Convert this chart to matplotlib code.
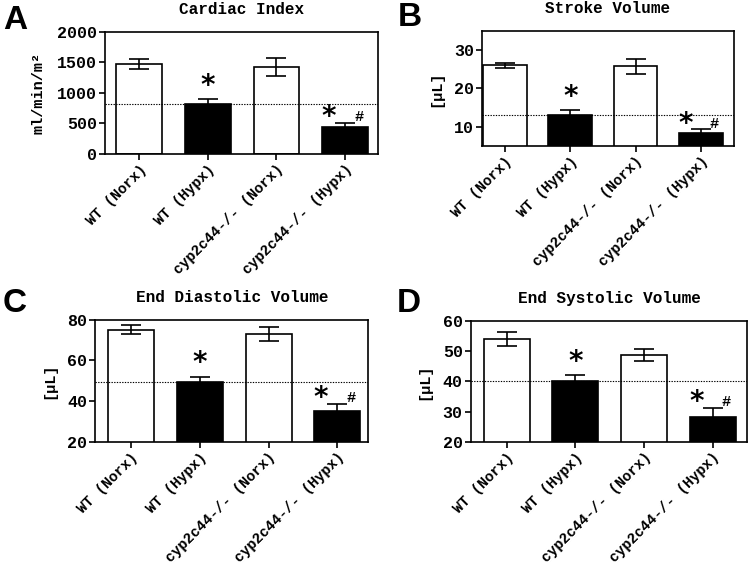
import numpy as np
import matplotlib
matplotlib.use("Agg")
import matplotlib.pyplot as plt

plt.rcParams['font.family'] = ['Liberation Mono', 'DejaVu Sans']
plt.rcParams['font.weight'] = 'bold'

# groups
groups = ["WT (Norx)", "WT (Hypx)", "cyp2c44-/- (Norx)", "cyp2c44-/- (Hypx)"]
bar_colors = ["white", "black", "white", "black"]

# panel data
ci_mean = [1470, 825, 1420, 440]
ci_err = [85, 75, 150, 70]
sv_mean = [26.0, 13.2, 25.8, 8.3]
sv_err = [0.7, 1.2, 1.9, 1.0]
edv_mean = [75.0, 49.6, 73.0, 35.3]
edv_err = [2.2, 2.5, 3.5, 3.5]
esv_mean = [54.0, 40.0, 48.7, 28.3]
esv_err = [2.3, 2.0, 2.0, 2.8]

panels = [
    # letter, title, ylabel, mean, err, ylim, yticks, xlim, axes rect, letter pos
    ("A", "Cardiac Index", "ml/min/m\u00b2", ci_mean, ci_err, (0, 2000), [0, 500, 1000, 1500, 2000],
     (-0.5, 3.48), [0.140, 0.729, 0.364, 0.215], (0.004, 0.949)),
    ("B", "Stroke Volume", "[\u03bcL]", sv_mean, sv_err, (5, 35), [10, 20, 30],
     (-0.35, 3.5), [0.643, 0.743, 0.335, 0.2025], (0.531, 0.955)),
    ("C", "End Diastolic Volume", "[\u03bcL]", edv_mean, edv_err, (20, 80), [20, 40, 60, 80],
     (-0.52, 3.45), [0.127, 0.222, 0.364, 0.215], (0.003, 0.451)),
    ("D", "End Systolic Volume", "[\u03bcL]", esv_mean, esv_err, (20, 60), [20, 30, 40, 50, 60],
     (-0.52, 3.5), [0.628, 0.222, 0.368, 0.213], (0.529, 0.451)),
]

fig = plt.figure(figsize=(7.5, 5.68), dpi=100)
x = np.arange(len(groups))

for letter, title, ylabel, mean, err, ylim, yticks, xlim, rect, lpos in panels:
    ax = fig.add_axes(rect)
    ax.bar(x, mean, width=0.67, color=bar_colors, edgecolor="black", linewidth=1.2, zorder=2)
    ax.errorbar(x, mean, yerr=err, fmt="none", ecolor="black", elinewidth=1.2,
                capsize=7, capthick=1.2, zorder=3)
    ax.axhline(mean[1], color="black", linestyle=(0, (1.2, 1.2)), linewidth=0.8, zorder=4)
    span = ylim[1] - ylim[0]
    # significance marks
    ax.text(x[1], mean[1] + err[1] + span * 0.11, "*", ha="center", va="center",
            fontsize=20, fontweight="bold", family="DejaVu Sans")
    ax.text(x[3] - 0.24, mean[3] + err[3] + span * 0.05, "*", ha="center", va="center",
            fontsize=20, fontweight="bold", family="DejaVu Sans")
    ax.text(x[3] + 0.2, mean[3] + err[3] + span * 0.05, "#", ha="center", va="center",
            fontsize=11, fontweight="bold")
    ax.set_xlim(*xlim)
    ax.set_ylim(*ylim)
    ax.set_yticks(yticks)
    ax.set_xticks(x)
    ax.set_xticklabels(groups, rotation=45, ha="right", rotation_mode="anchor", fontsize=10.5)
    ax.tick_params(axis="y", labelsize=12, width=1.2, length=4, direction="out", pad=2)
    ax.tick_params(axis="x", width=1.2, length=4, direction="out", pad=2)
    for s in ax.spines.values():
        s.set_linewidth(1.2)
    ax.set_ylabel(ylabel, fontsize=11, fontweight="bold", labelpad=8)
    ax.set_title(title, fontsize=11.5, fontweight="bold", pad=13)
    fig.text(lpos[0], lpos[1], letter, fontsize=24, fontweight="bold",
             family="Liberation Sans", ha="left", va="baseline")

fig.savefig("out.png", dpi=100)
